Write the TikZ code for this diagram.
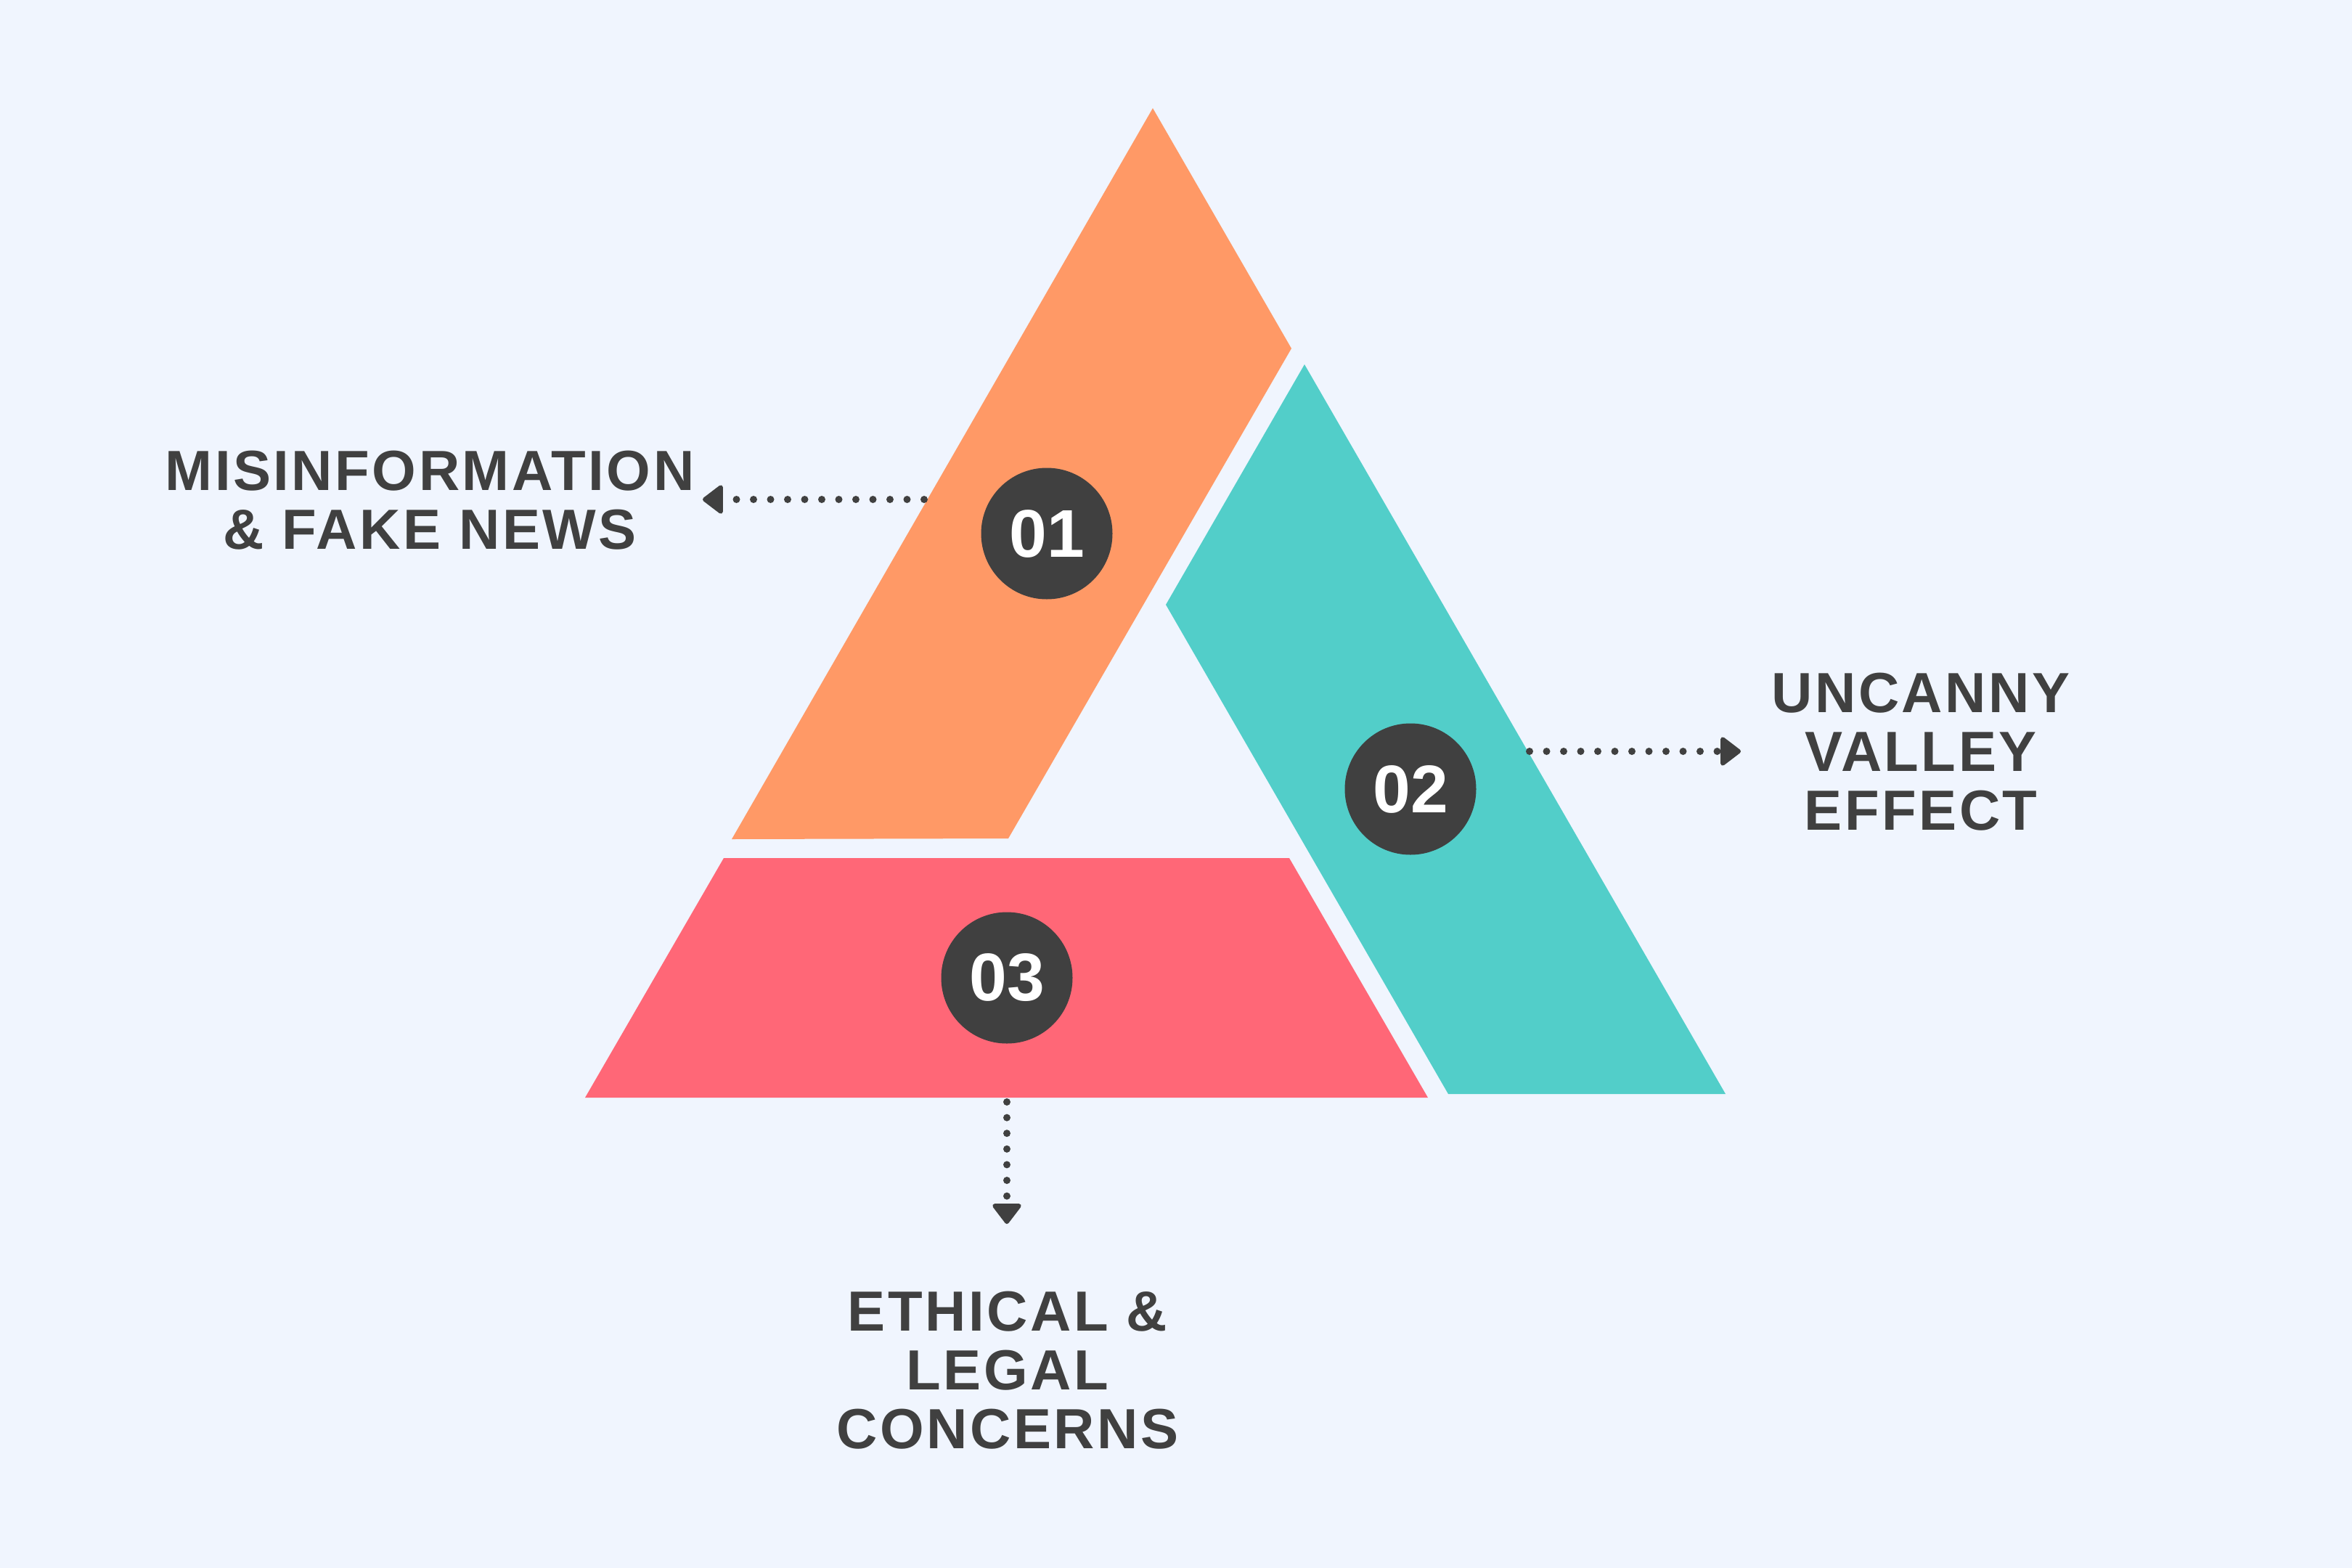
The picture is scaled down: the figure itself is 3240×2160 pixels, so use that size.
\documentclass[tikz,border=0pt]{standalone}
\usepackage{fontspec}
\setmainfont{Liberation Sans}
\newfontfamily\lblfont{Liberation Sans}[LetterSpace=4.5]
\usetikzlibrary{arrows.meta}
\definecolor{bgc}{HTML}{F0F5FE}
\definecolor{orangec}{HTML}{FF9966}
\definecolor{tealc}{HTML}{52CEC9}
\definecolor{redc}{HTML}{FF6777}
\definecolor{darkc}{HTML}{404040}
\begin{document}
\begin{tikzpicture}[x=1pt,y=-1pt,
  badge/.style={circle, fill=darkc, minimum size=181pt, inner sep=0pt, text=white,
    font=\fontsize{93}{93}\selectfont\bfseries},
  lbl/.style={text=darkc, align=center, anchor=base, inner sep=0pt,
    font=\lblfont\fontsize{78}{81}\selectfont\bfseries},
  conn/.style={draw=darkc, line width=10pt, line cap=round, dash pattern=on 0pt off 23.5pt,
    -{Triangle[length=30pt,width=44pt,line width=6pt,round]}}
]
\useasboundingbox (0,0) rectangle (3240,2160);
\fill[bgc] (0,0) rectangle (3240,2160);

% segments
\fill[orangec] (1588,149) -- (1779,480) -- (1389,1155) -- (1008,1156) -- cycle;
\fill[tealc] (1797,502) -- (2377,1507) -- (1995,1507) -- (1606,833) -- cycle;
\fill[redc] (997,1182) -- (1776,1182) -- (1967,1512) -- (806,1512) -- cycle;

% badges
\node[badge] (c1) at (1442,735) {01};
\node[badge] (c2) at (1943,1087) {02};
\node[badge] (c3) at (1387,1347) {03};

% labels (anchored at the baseline of the last line)
\node[lbl] (l1) at (592,756) {MISINFORMATION\\\& FAKE NEWS};
\node[lbl] (l2) at (2646,1143) {UNCANNY\\VALLEY\\EFFECT};
\node[lbl] (l3) at (1388,1995) {ETHICAL \&\\LEGAL\\CONCERNS};

% connector end points
\coordinate (s1) at (1273,688);
\coordinate (e1) at (968,688);
\coordinate (s2) at (2107,1035);
\coordinate (e2) at (2398,1035);
\coordinate (s3) at (1387,1518);
\coordinate (e3) at (1387,1686);

\draw[conn] (s1) -- (e1);
\draw[conn] (s2) -- (e2);
\draw[conn, dash pattern=on 0pt off 21.6pt] (s3) -- (e3);
\end{tikzpicture}
\end{document}
